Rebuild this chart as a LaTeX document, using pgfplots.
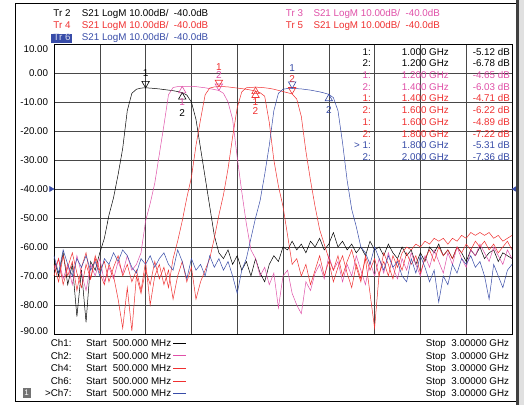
\documentclass[border=0pt]{standalone}
\usepackage{pgfplots}
\pgfplotsset{compat=1.18}
\usepackage{fontspec}
\setmainfont{Liberation Sans}
\definecolor{trPink}{RGB}{224,80,168}
\definecolor{trRed}{RGB}{240,48,48}
\definecolor{trBlue}{RGB}{56,76,168}
\newcommand{\tf}{\fontsize{9.8bp}{11.7bp}\selectfont}
\newcommand{\mkfont}{\fontsize{10bp}{12bp}\selectfont}
\pgfplotsset{
 mkbase/.style={color=#1, only marks, mark=triangle, mark size=4.3bp,
   nodes near coords, point meta=explicit symbolic},
 mkdown/.style 2 args={mkbase=#1,
   mark options={solid, line width=0.6bp, yshift=4.3bp, rotate=180},
   every node near coord/.append style={anchor=south, yshift=#2, inner sep=0pt, font=\mkfont, text=#1}},
 mkup/.style 2 args={mkbase=#1,
   mark options={solid, line width=0.6bp, yshift=-4.3bp},
   every node near coord/.append style={anchor=north, yshift=#2, inner sep=0pt, font=\mkfont, text=#1}},
}
\begin{document}
\begin{tikzpicture}[font=\tf]
\useasboundingbox (-54bp,-71bp) rectangle (470bp,334bp);
\fill[white] (-54bp,-71bp) rectangle (470bp,334bp);
\begin{axis}[at={(0,0)}, anchor=south west, width=458bp, height=290bp, scale only axis,
 xmin=500, xmax=3000, ymin=-90, ymax=10,
 xtick={750,1000,...,2750}, xticklabels={},
 ytick={-80,-70,...,0},
 yticklabels={-80.00,-70.00,-60.00,-50.00,-40.00,-30.00,-20.00,-10.00,0.00},
 grid=major, grid style={black!72, line width=0.6bp},
 major tick length=0pt,
 axis line style={black, line width=0.8bp},
 yticklabel style={anchor=east, inner sep=0pt, xshift=-5.7bp, font=\tf},
 clip=false]
% Tr2 black
\addplot[black, line width=0.5bp] coordinates {
(500,-64)(525,-70)(550,-62)(575,-73)(600,-66)(625,-84)(650,-68)(675,-86)(700,-65)(725,-68)
(750,-62)(775,-57)(800,-49)(825,-43)(850,-35)(875,-26)(900,-13)(925,-7)(950,-5.6)(975,-5.2)
(1000,-5.12)(1025,-5.2)(1050,-5.35)(1075,-5.5)(1100,-5.7)(1125,-5.9)(1150,-6.1)(1175,-6.4)(1200,-6.78)
(1225,-7.6)(1250,-10)(1275,-16)(1300,-26)(1325,-36)(1350,-46)(1375,-56)(1400,-62)
(1425,-64)(1450,-61)(1475,-66)(1500,-63)(1525,-68)(1550,-65)(1575,-70)(1600,-64)(1625,-69)
(1650,-72)(1675,-66)(1700,-63)(1725,-65)(1750,-60)(1775,-61)(1800,-58)(1825,-61)(1850,-59)
(1875,-62)(1900,-58)(1925,-60)(1950,-57)(1975,-61)(2000,-59)(2025,-55)(2050,-60)(2075,-58)
(2100,-61)(2125,-59)(2150,-62)(2175,-60)(2200,-63)(2225,-58)(2250,-61)(2275,-60)(2300,-63)
(2325,-59)(2350,-62)(2375,-64)(2400,-60)(2425,-63)(2450,-61)(2475,-66)(2500,-62)(2525,-65)
(2550,-60)(2575,-62)(2600,-59)(2625,-63)(2650,-61)(2675,-64)(2700,-60)(2725,-62)(2750,-65)
(2775,-61)(2800,-63)(2825,-60)(2850,-64)(2875,-62)(2900,-61)(2925,-65)(2950,-62)(2975,-63)(3000,-64)};
% Tr3 pink
\addplot[trPink, line width=0.5bp] coordinates {
(500,-68)(525,-64)(550,-71)(575,-66)(600,-73)(625,-63)(650,-69)(675,-75)(700,-66)(725,-70)
(750,-64)(775,-72)(800,-67)(825,-71)(850,-65)(875,-69)(900,-63)(925,-68)(950,-66)
(975,-62)(1000,-51)(1025,-45)(1050,-38)(1075,-28)(1100,-18)(1125,-7.5)(1150,-5)(1175,-4.7)
(1200,-4.65)(1225,-4.6)(1250,-4.6)(1275,-4.7)(1300,-4.9)(1325,-5.1)(1350,-5.4)(1375,-5.7)(1400,-6.03)
(1425,-7)(1450,-10)(1475,-16)(1500,-29)(1525,-41)(1550,-52)(1575,-61)
(1600,-64)(1625,-70)(1650,-67)(1675,-73)(1700,-69)(1725,-81)(1750,-70)(1775,-68)(1800,-76)
(1825,-80)(1850,-83)(1875,-72)(1900,-75)(1925,-69)(1950,-66)(1975,-71)(2000,-63)(2025,-68)
(2050,-65)(2075,-72)(2100,-66)(2125,-70)(2150,-63)(2175,-68)(2200,-73)(2225,-65)(2250,-70)
(2275,-64)(2300,-69)(2325,-62)(2350,-67)(2375,-71)(2400,-64)(2425,-68)(2450,-62)(2475,-66)
(2500,-70)(2525,-63)(2550,-67)(2575,-61)(2600,-65)(2625,-69)(2650,-62)(2675,-66)(2700,-60)
(2725,-64)(2750,-67)(2775,-61)(2800,-63)(2825,-59)(2850,-62)(2875,-65)(2900,-60)(2925,-63)
(2950,-66)(2975,-61)(3000,-64)};
% Tr4 red
\addplot[trRed, line width=0.5bp] coordinates {
(500,-66)(525,-72)(550,-63)(575,-70)(600,-65)(625,-75)(650,-67)(675,-62)(700,-71)(725,-64)
(750,-69)(775,-73)(800,-66)(825,-70)(850,-78)(875,-88)(900,-74)(925,-89)(950,-70)(975,-76)
(1000,-68)(1025,-73)(1050,-65)(1075,-71)(1100,-67)(1125,-74)(1150,-64)
(1175,-58)(1200,-51)(1225,-43)(1250,-36)(1275,-25)(1300,-16)(1325,-7.5)(1350,-5.2)(1375,-4.8)
(1400,-4.71)(1425,-4.7)(1450,-4.8)(1475,-5)(1500,-5.2)(1525,-5.4)(1550,-5.6)(1575,-5.9)(1600,-6.22)
(1625,-6.8)(1650,-8)(1675,-17)(1700,-30)(1725,-39)(1750,-46)(1775,-56)(1800,-66)
(1825,-64)(1850,-70)(1875,-66)(1900,-73)(1925,-68)(1950,-63)(1975,-70)(2000,-65)(2025,-72)
(2050,-67)(2075,-63)(2100,-69)(2125,-74)(2150,-66)(2175,-71)(2200,-64)(2225,-76)(2250,-88)
(2275,-69)(2300,-65)(2325,-70)(2350,-63)(2375,-67)(2400,-62)(2425,-60)(2450,-61)(2475,-59)
(2500,-60)(2525,-58)(2550,-59)(2575,-57)(2600,-58)(2625,-57)(2650,-59)(2675,-57)(2700,-58)
(2725,-56)(2750,-57)(2775,-55)(2800,-56)(2825,-55)(2850,-56)(2875,-55)(2900,-57)(2925,-56)
(2950,-58)(2975,-57)(3000,-56)};
% Tr5 red
\addplot[trRed, line width=0.5bp] coordinates {
(500,-70)(525,-64)(550,-73)(575,-67)(600,-62)(625,-69)(650,-74)(675,-66)(700,-71)(725,-63)
(750,-68)(775,-65)(800,-72)(825,-67)(850,-63)(875,-70)(900,-66)(925,-72)(950,-68)(975,-75)
(1000,-65)(1025,-80)(1050,-70)(1075,-66)(1100,-73)(1125,-68)(1150,-78)(1175,-70)(1200,-65)
(1225,-72)(1250,-67)(1275,-78)(1300,-72)(1325,-68)
(1350,-64)(1375,-57)(1400,-49)(1425,-42)(1450,-33)(1475,-22)(1500,-12)(1525,-6.5)(1550,-5.1)
(1575,-4.95)(1600,-4.89)(1625,-4.95)(1650,-5.1)(1675,-5.3)(1700,-5.6)(1725,-6)(1750,-6.4)(1775,-6.8)
(1800,-7.22)(1825,-9)(1850,-15)(1875,-27)(1900,-37)(1925,-46)(1950,-54)(1975,-59)(2000,-64)
(2025,-68)(2050,-63)(2075,-70)(2100,-65)(2125,-61)(2150,-67)(2175,-72)(2200,-63)(2225,-68)
(2250,-64)(2275,-70)(2300,-62)(2325,-66)(2350,-71)(2375,-64)(2400,-68)(2425,-62)(2450,-66)
(2475,-63)(2500,-69)(2525,-64)(2550,-61)(2575,-65)(2600,-60)(2625,-63)(2650,-61)(2675,-64)
(2700,-60)(2725,-62)(2750,-59)(2775,-61)(2800,-58)(2825,-60)(2850,-58)(2875,-61)(2900,-59)
(2925,-62)(2950,-60)(2975,-58)(3000,-61)};
% Tr6 blue
\addplot[trBlue, line width=0.5bp] coordinates {
(500,-63)(525,-69)(550,-61)(575,-66)(600,-70)(625,-64)(650,-67)(675,-63)(700,-68)(725,-65)
(750,-70)(775,-64)(800,-66)(825,-62)(850,-65)(875,-61)(900,-63)(925,-67)(950,-69)(975,-64)
(1000,-66)(1025,-63)(1050,-67)(1075,-64)(1100,-62)(1125,-66)(1150,-68)(1175,-61)(1200,-65)
(1225,-71)(1250,-64)(1275,-68)(1300,-66)(1325,-70)(1350,-63)(1375,-67)(1400,-64)(1425,-68)
(1450,-65)(1475,-70)(1500,-76)(1525,-68)
(1550,-64)(1575,-57)(1600,-50)(1625,-44)(1650,-35)(1675,-25)(1700,-13)(1725,-7)(1750,-5.6)
(1775,-5.35)(1800,-5.31)(1825,-5.4)(1850,-5.5)(1875,-5.7)(1900,-5.9)(1925,-6.2)(1950,-6.5)(1975,-6.9)
(2000,-7.36)(2025,-8.5)(2050,-13)(2075,-24)(2100,-37)(2125,-47)(2150,-53)(2175,-60)
(2200,-62)(2225,-66)(2250,-60)(2275,-64)(2300,-68)(2325,-63)(2350,-67)(2375,-65)(2400,-70)
(2425,-72)(2450,-64)(2475,-69)(2500,-63)(2525,-67)(2550,-72)(2575,-68)(2600,-79)(2625,-70)
(2650,-73)(2675,-66)(2700,-69)(2725,-64)(2750,-66)(2775,-63)(2800,-67)(2825,-65)(2850,-70)
(2875,-78)(2900,-66)(2925,-70)(2950,-74)(2975,-68)(3000,-66)};
% markers
\addplot[mkdown={black}{7.2bp}] coordinates {(1000,-5.12) [1]};
\addplot[mkup={black}{-12bp}] coordinates {(1200,-6.78) [2]};
\addplot[mkup={trPink}{-7.2bp}] coordinates {(1200,-4.65) [1]};
\addplot[mkdown={trPink}{7.2bp}] coordinates {(1400,-6.03) [2]};
\addplot[mkdown={trRed}{12bp}] coordinates {(1400,-4.71) [1]};
\addplot[mkup={trRed}{-12bp}] coordinates {(1600,-6.22) [2]};
\addplot[mkup={trRed}{-7.2bp}] coordinates {(1600,-4.89) [1]};
\addplot[mkdown={trRed}{7.2bp}] coordinates {(1800,-7.22) [2]};
\addplot[mkdown={trBlue}{12bp}] coordinates {(1800,-5.31) [1]};
\addplot[mkup={trBlue}{-7.2bp}] coordinates {(2000,-7.36) [2]};
% reference level arrows
\addplot[only marks, mark=triangle*, mark size=3bp, trBlue, mark options={xshift=-3bp, rotate=-90}] coordinates {(500,-40)};
\addplot[only marks, mark=triangle*, mark size=3bp, trBlue, mark options={xshift=3bp, rotate=90}] coordinates {(3000,-40)};
\end{axis}
% outer y labels at box edges
\node[anchor=east, inner sep=0pt] at (-5.7bp,285bp) {10.00};
\node[anchor=east, inner sep=0pt] at (-5.7bp,3bp) {-90.00};
% header
\fill[trBlue] (-2.5bp,291.3bp) rectangle (18bp,299.9bp);
\begin{scope}[every node/.style={anchor=base west, inner sep=0pt}]
\node at (-0.7bp,317.2bp) {Tr 2};
\node at (27.7bp,317.2bp) {S21 LogM 10.00dB/\ \ -40.0dB};
\node[text=trRed] at (-0.7bp,305.5bp) {Tr 4};
\node[text=trRed] at (27.7bp,305.5bp) {S21 LogM 10.00dB/\ \ -40.0dB};
\node[text=white!80!trBlue] at (-0.7bp,293.2bp) {Tr 6};
\node[text=trBlue] at (27.7bp,293.2bp) {S21 LogM 10.00dB/\ \ -40.0dB};
\node[text=trPink] at (231.7bp,317.2bp) {Tr 3};
\node[text=trPink] at (259.3bp,317.2bp) {S21 LogM 10.00dB/\ \ -40.0dB};
\node[text=trRed] at (231.7bp,305.5bp) {Tr 5};
\node[text=trRed] at (259.3bp,305.5bp) {S21 LogM 10.00dB/\ \ -40.0dB};
\end{scope}
% marker table
\begin{scope}[every node/.style={anchor=base east, inner sep=0pt}]
\node at (317bp,278.8bp) {1:}; \node at (395bp,278.8bp) {1.000 GHz}; \node at (456bp,278.8bp) {-5.12 dB};
\node at (317bp,267.1bp) {2:}; \node at (395bp,267.1bp) {1.200 GHz}; \node at (456bp,267.1bp) {-6.78 dB};
\node[text=trPink] at (317bp,255.4bp) {1:}; \node[text=trPink] at (395bp,255.4bp) {1.200 GHz}; \node[text=trPink] at (456bp,255.4bp) {-4.65 dB};
\node[text=trPink] at (317bp,243.7bp) {2:}; \node[text=trPink] at (395bp,243.7bp) {1.400 GHz}; \node[text=trPink] at (456bp,243.7bp) {-6.03 dB};
\node[text=trRed] at (317bp,232.0bp) {1:}; \node[text=trRed] at (395bp,232.0bp) {1.400 GHz}; \node[text=trRed] at (456bp,232.0bp) {-4.71 dB};
\node[text=trRed] at (317bp,220.3bp) {2:}; \node[text=trRed] at (395bp,220.3bp) {1.600 GHz}; \node[text=trRed] at (456bp,220.3bp) {-6.22 dB};
\node[text=trRed] at (317bp,208.6bp) {1:}; \node[text=trRed] at (395bp,208.6bp) {1.600 GHz}; \node[text=trRed] at (456bp,208.6bp) {-4.89 dB};
\node[text=trRed] at (317bp,196.9bp) {2:}; \node[text=trRed] at (395bp,196.9bp) {1.800 GHz}; \node[text=trRed] at (456bp,196.9bp) {-7.22 dB};
\node[text=trBlue] at (317bp,185.2bp) {> 1:}; \node[text=trBlue] at (395bp,185.2bp) {1.800 GHz}; \node[text=trBlue] at (456bp,185.2bp) {-5.31 dB};
\node[text=trBlue] at (317bp,173.5bp) {2:}; \node[text=trBlue] at (395bp,173.5bp) {2.000 GHz}; \node[text=trBlue] at (456bp,173.5bp) {-7.36 dB};
\end{scope}
% channel list
\begin{scope}[every node/.style={inner sep=0pt}]
\node[anchor=base east] at (17.7bp,-12.8bp) {Ch1:};
\node[anchor=base east] at (17.7bp,-25.2bp) {Ch2:};
\node[anchor=base east] at (17.7bp,-37.8bp) {Ch4:};
\node[anchor=base east] at (17.7bp,-50.5bp) {Ch6:};
\node[anchor=base east] at (17.7bp,-62.8bp) {>Ch7:};
\foreach \yy in {-12.8,-25.2,-37.8,-50.5,-62.8}{
  \node[anchor=base west] at (32bp,\yy bp) {Start};
  \node[anchor=base west] at (58.7bp,\yy bp) {500.000 MHz};
  \node[anchor=base east] at (455.3bp,\yy bp) {Stop\ \ 3.00000 GHz};
}
\end{scope}
\draw[black, line width=0.9bp] (119.3bp,-9.3bp) -- (131.7bp,-9.3bp);
\draw[trPink, line width=0.9bp] (119.3bp,-21.7bp) -- (131.7bp,-21.7bp);
\draw[trRed, line width=0.9bp] (119.3bp,-34.3bp) -- (131.7bp,-34.3bp);
\draw[trRed, line width=0.9bp] (119.3bp,-47bp) -- (131.7bp,-47bp);
\draw[trBlue, line width=0.9bp] (119.3bp,-59.3bp) -- (131.7bp,-59.3bp);
\fill[black!55] (-31.3bp,-64bp) rectangle (-23.3bp,-54bp);
\node[text=white, inner sep=0pt, font=\fontsize{8bp}{9bp}\selectfont] at (-27.3bp,-59bp) {1};
% frame
\draw[black, line width=0.8bp] (-39bp,-67bp) rectangle (462bp,331bp);
\fill[black!75] (462bp,-71bp) rectangle (465bp,334bp);
\fill[black!12] (465bp,-71bp) rectangle (470bp,334bp);
\end{tikzpicture}
\end{document}
